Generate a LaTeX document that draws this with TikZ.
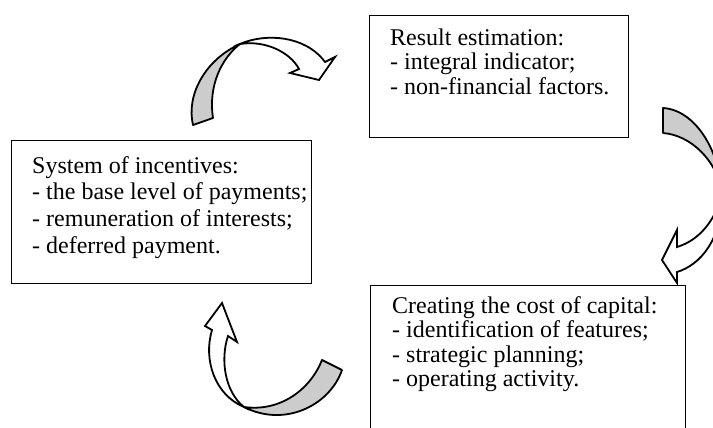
\documentclass[tikz,border=0pt]{standalone}
\usepackage{fontspec}
\setmainfont{Liberation Serif}
\begin{document}
\begin{tikzpicture}[x=1pt,y=-1pt,
  box/.style={draw=black, line width=1pt, fill=white, inner sep=0pt, anchor=north west},
  txt/.style={inner sep=0pt, anchor=north west, align=left},
  back/.style={draw=black, line width=1.8pt, fill=black!20, line join=round},
  front/.style={draw=black, line width=1.8pt, fill=white, line join=miter}]
\useasboundingbox (0,0) rectangle (713,428);
\begin{scope}
\clip (0,0) rectangle (713,428);
% boxes
\node[box, minimum width=259pt, minimum height=122pt] (res) at (369,15) {};
\node[box, minimum width=300pt, minimum height=143pt] (inc) at (11,140) {};
\node[box, minimum width=315pt, minimum height=170pt] (cap) at (370,285) {};
% texts
\node[txt, font={\fontsize{24}{24.7}\selectfont}] (resT) at (390,45-18)
  {\rule{0pt}{18pt}Result estimation:\\- integral indicator;\\- non-financial factors.};
\node[txt, font={\fontsize{24}{26.7}\selectfont}] (incT) at (32,173-18)
  {\rule{0pt}{18pt}System of incentives:\\- the base level of payments;\\- remuneration of interests;\\- deferred payment.};
\node[txt, font={\fontsize{24}{24.5}\selectfont}] (capT) at (392,313-18)
  {\rule{0pt}{18pt}Creating the cost of capital:\\- identification of features;\\- strategic planning;\\- operating activity.};
% arrow 1 (system -> result)
\coordinate (x1) at (240,44);
\draw[back] (193,125) .. controls (186,95) and (205,60) .. (x1)
  .. controls (222,58) and (208,85) .. (213,118) -- cycle;
\draw[front] (x1) .. controls (265,33) and (305,35) .. (325,62) -- (335,57) -- (319,80)
  -- (290,73) -- (299,69) .. controls (290,52) and (265,40) .. (x1) -- cycle;
% arrow 2 (result -> capital)
\coordinate (x2) at (722,195);
\draw[back] (663,108) .. controls (695,110) and (720,150) .. (x2)
  .. controls (718,160) and (690,135) .. (663,133) -- cycle;
\draw[front] (x2) .. controls (722,240) and (700,265) .. (677,272) -- (677,283) -- (662,260)
  -- (677,230) -- (677,247) .. controls (700,240) and (715,220) .. (x2) -- cycle;
% arrow 3 (capital -> system)
\coordinate (x3) at (244,407);
\draw[back] (342,370) .. controls (330,405) and (285,428) .. (x3)
  .. controls (280,412) and (310,390) .. (322,360) -- cycle;
\draw[front] (x3) .. controls (215,395) and (203,360) .. (212,330) -- (205,326) -- (222,303)
  -- (237,342) -- (228,336) .. controls (220,360) and (225,392) .. (x3) -- cycle;
\end{scope}
\end{tikzpicture}
\end{document}
